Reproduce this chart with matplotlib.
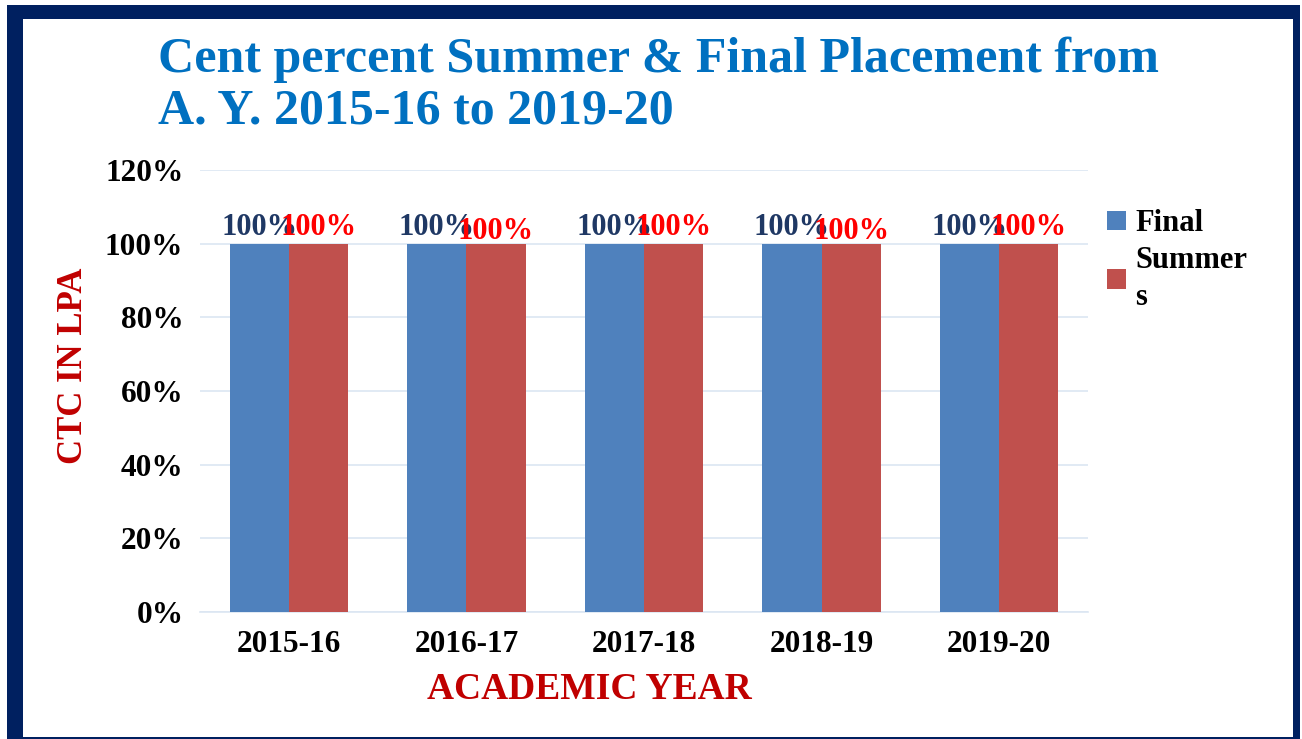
import matplotlib
matplotlib.use("Agg")
import matplotlib.pyplot as plt
from matplotlib.patches import Rectangle, Patch
import numpy as np

years = ["2015-16", "2016-17", "2017-18", "2018-19", "2019-20"]
final_pct = [100, 100, 100, 100, 100]
summer_pct = [100, 100, 100, 100, 100]
y_ticks = [0, 20, 40, 60, 80, 100, 120]

SERIF = ["Liberation Serif", "DejaVu Serif"]
BLUE = "#4F81BD"
RED = "#C0504D"
NAVY = "#002060"

W, H = 1302, 739
fig = plt.figure(figsize=(W / 100, H / 100), dpi=100)
fig.patch.set_facecolor("white")

# slide frame: navy border around a white panel
fig.patches.append(Rectangle((7 / W, 0), (1300 - 7) / W, (H - 5) / H,
                             transform=fig.transFigure, facecolor=NAVY,
                             edgecolor="none", zorder=-10))
fig.patches.append(Rectangle((23 / W, 2 / H), (1293 - 23) / W, (H - 19 - 2) / H,
                             transform=fig.transFigure, facecolor="white",
                             edgecolor="none", zorder=-9))

ax = fig.add_axes([200 / W, 1 - 612 / H, 888 / W, (612 - 170) / H])
ax.set_facecolor("none")
ax.set_zorder(2)

x = np.arange(len(years))
bw = 0.333
bars_f = ax.bar(x - bw / 2, final_pct, bw, color=BLUE, zorder=3)
bars_s = ax.bar(x + bw / 2, summer_pct, bw, color=RED, zorder=3)

ax.set_xlim(-0.5, len(years) - 0.5)
ax.set_ylim(0, 120)
ax.set_yticks(y_ticks)
ax.set_yticklabels([f"{t}%" for t in y_ticks])
ax.set_xticks(x)
ax.set_xticklabels(years)
ax.grid(axis="y", color="#DCE6F2", linewidth=1.2, zorder=0)
for s in ["top", "right", "left"]:
    ax.spines[s].set_visible(False)
ax.spines["bottom"].set_color("#DCE6F2")
ax.spines["bottom"].set_linewidth(1.2)
ax.tick_params(axis="both", length=0)
ax.tick_params(axis="y", pad=12)
ax.tick_params(axis="x", pad=13)
for lab in ax.get_yticklabels() + ax.get_xticklabels():
    lab.set_fontfamily(SERIF)
    lab.set_fontweight("bold")
    lab.set_fontsize(22.5)
    lab.set_color("black")

# value labels
red_drop = [0, 3, 0, 3, 0]
for i, (bf, bs) in enumerate(zip(bars_f, bars_s)):
    ax.annotate(f"{final_pct[i]:.0f}%", (bf.get_x() + bf.get_width() / 2, bf.get_height()),
                xytext=(0, 1), textcoords="offset points", ha="center", va="bottom",
                fontsize=22, fontweight="bold", family=SERIF, color="#1F3864", zorder=5)
    ax.annotate(f"{summer_pct[i]:.0f}%", (bs.get_x() + bs.get_width() / 2, bs.get_height()),
                xytext=(0, 1 - red_drop[i]), textcoords="offset points", ha="center", va="bottom",
                fontsize=22, fontweight="bold", family=SERIF, color="#FF0000", zorder=5)

ax.set_ylabel("CTC IN LPA", fontsize=25, fontweight="bold", family=SERIF,
              color="#C00000")
ax.yaxis.set_label_coords(-0.1235, 0.557)
ax.set_xlabel("ACADEMIC YEAR", fontsize=27, fontweight="bold", family=SERIF,
              color="#C00000")
ax.xaxis.set_label_coords(0.438, -0.135)

fig.text(158 / W, 1 - 37 / H, "Cent percent Summer & Final Placement from\nA. Y. 2015-16 to 2019-20",
         ha="left", va="top", fontsize=36, fontweight="bold", family=SERIF,
         color="#0070C0", linespacing=1.15)

handles = [Patch(facecolor=BLUE), Patch(facecolor=RED)]
leg = fig.legend(handles, ["Final", "Summer\ns"], loc="upper left",
                 bbox_to_anchor=(1092 / W, 1 - 194 / H), frameon=False,
                 prop={"family": SERIF, "weight": "bold", "size": 22},
                 handlelength=0.62, handleheight=0.62, handletextpad=0.3,
                 labelspacing=0.25, borderpad=0)
leg.get_texts()[1].set_linespacing(1.35)

fig.savefig("out.png", dpi=100, facecolor="white")
